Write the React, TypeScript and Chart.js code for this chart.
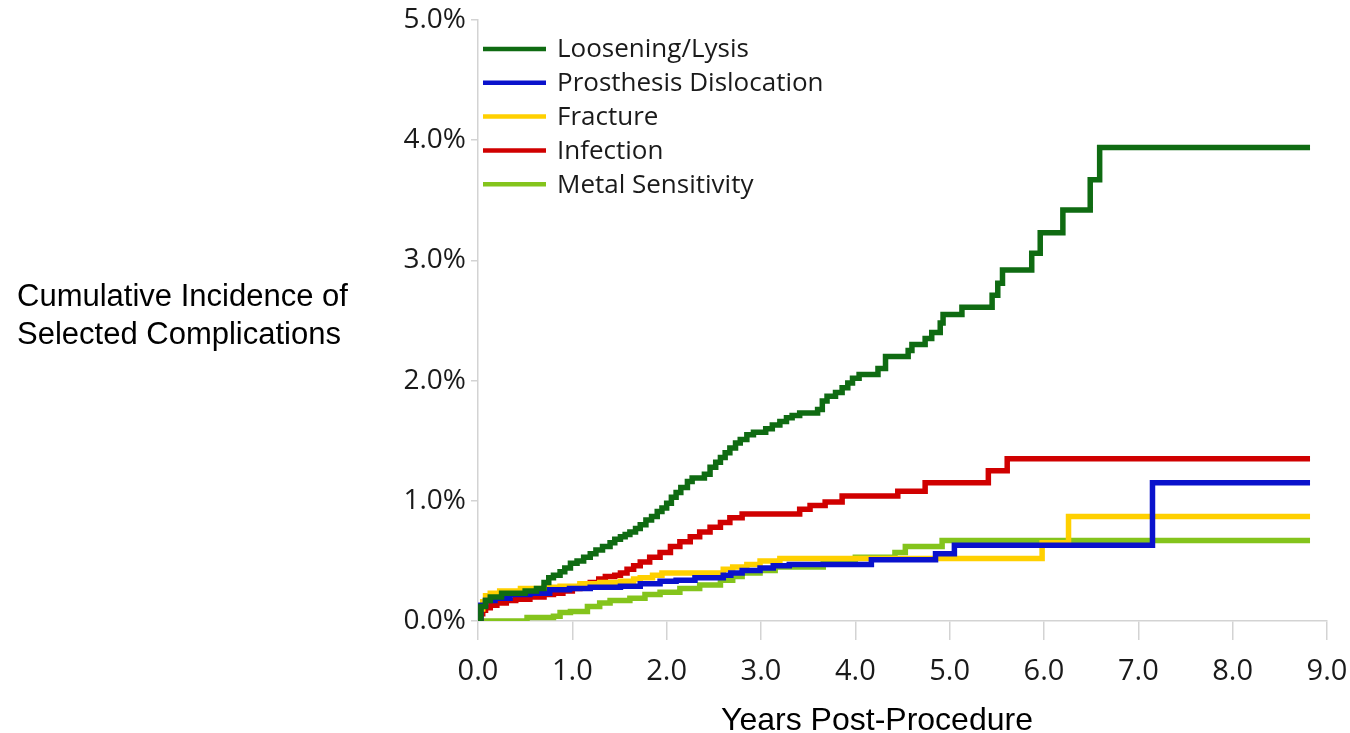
import React, { useEffect, useRef } from "react";
import { Chart, registerables } from "chart.js";

Chart.register(...registerables);

// ---------- data ----------
const seriesNames = [
  "Loosening/Lysis",
  "Prosthesis Dislocation",
  "Fracture",
  "Infection",
  "Metal Sensitivity",
];
const seriesColors = ["#0f6b12", "#0a12cc", "#ffd000", "#d00000", "#84c41c"];

// [years, cumulative incidence %] — value holds from that time onward
const looseningLysis: [number, number][] = [
  [0, 0], [0.03, 0.12], [0.08, 0.17], [0.13, 0.2], [0.25, 0.23], [0.5, 0.25],
  [0.62, 0.27], [0.7, 0.32], [0.75, 0.36], [0.8, 0.38], [0.87, 0.41], [0.92, 0.44],
  [0.98, 0.48], [1.05, 0.5], [1.12, 0.53], [1.19, 0.56], [1.25, 0.59], [1.32, 0.62],
  [1.4, 0.65], [1.45, 0.68], [1.51, 0.7], [1.56, 0.72], [1.61, 0.74], [1.67, 0.77],
  [1.72, 0.8], [1.78, 0.84], [1.84, 0.87], [1.9, 0.91], [1.95, 0.94], [2.0, 0.98],
  [2.05, 1.03], [2.1, 1.07], [2.15, 1.11], [2.22, 1.16], [2.27, 1.19], [2.4, 1.22],
  [2.46, 1.28], [2.52, 1.32], [2.57, 1.36], [2.62, 1.4], [2.67, 1.44], [2.73, 1.48],
  [2.78, 1.51], [2.85, 1.55], [2.92, 1.57], [3.05, 1.6], [3.12, 1.63], [3.2, 1.66],
  [3.27, 1.69], [3.33, 1.71], [3.41, 1.73], [3.6, 1.76], [3.65, 1.83], [3.7, 1.87],
  [3.79, 1.9], [3.86, 1.94], [3.92, 1.98], [3.97, 2.02], [4.04, 2.05], [4.24, 2.1],
  [4.32, 2.2], [4.56, 2.25], [4.6, 2.3], [4.74, 2.35], [4.81, 2.4], [4.9, 2.48],
  [4.93, 2.55], [5.13, 2.61], [5.45, 2.71], [5.51, 2.81], [5.56, 2.92], [5.87, 3.06],
  [5.96, 3.23], [6.2, 3.42], [6.49, 3.67], [6.59, 3.94], [8.82, 3.94],
];

const prosthesisDislocation: [number, number][] = [
  [0, 0], [0.03, 0.13], [0.08, 0.17], [0.18, 0.19], [0.34, 0.22], [0.55, 0.23],
  [0.76, 0.26], [0.97, 0.27], [1.19, 0.28], [1.51, 0.29], [1.72, 0.31], [1.93, 0.33],
  [2.1, 0.34], [2.3, 0.36], [2.6, 0.38], [2.68, 0.4], [2.8, 0.42], [2.99, 0.44],
  [3.13, 0.46], [3.3, 0.47], [4.17, 0.51], [4.85, 0.56], [5.05, 0.63], [7.15, 1.15],
  [8.82, 1.15],
];

const fracture: [number, number][] = [
  [0, 0], [0.02, 0.1], [0.05, 0.16], [0.08, 0.21], [0.13, 0.23], [0.23, 0.25],
  [0.45, 0.27], [0.7, 0.28], [0.87, 0.29], [1.08, 0.31], [1.29, 0.32], [1.51, 0.33],
  [1.65, 0.35], [1.72, 0.36], [1.85, 0.38], [1.95, 0.4], [2.6, 0.43], [2.7, 0.45],
  [2.85, 0.47], [2.99, 0.5], [3.2, 0.52], [5.98, 0.65], [6.26, 0.87], [8.82, 0.87],
];

const infection: [number, number][] = [
  [0, 0], [0.03, 0.06], [0.05, 0.09], [0.08, 0.11], [0.13, 0.13], [0.2, 0.15],
  [0.3, 0.17], [0.4, 0.18], [0.55, 0.2], [0.7, 0.22], [0.8, 0.23], [0.9, 0.25],
  [1.0, 0.27], [1.08, 0.29], [1.19, 0.32], [1.28, 0.35], [1.35, 0.37], [1.45, 0.38],
  [1.51, 0.4], [1.58, 0.43], [1.65, 0.46], [1.72, 0.49], [1.82, 0.53], [1.93, 0.57],
  [2.04, 0.62], [2.14, 0.66], [2.25, 0.7], [2.35, 0.74], [2.46, 0.78], [2.57, 0.82],
  [2.67, 0.86], [2.8, 0.89], [3.41, 0.93], [3.52, 0.96], [3.68, 0.99], [3.86, 1.04],
  [4.45, 1.08], [4.74, 1.15], [5.41, 1.25], [5.61, 1.35], [8.82, 1.35],
];

const metalSensitivity: [number, number][] = [
  [0, 0], [0.52, 0.03], [0.8, 0.04], [0.87, 0.07], [0.98, 0.08], [1.16, 0.12],
  [1.29, 0.15], [1.4, 0.17], [1.61, 0.19], [1.77, 0.22], [1.93, 0.24], [2.14, 0.27],
  [2.35, 0.3], [2.57, 0.34], [2.7, 0.37], [2.8, 0.4], [2.99, 0.42], [3.15, 0.45],
  [3.66, 0.48], [3.85, 0.5], [4.0, 0.53], [4.42, 0.57], [4.53, 0.62], [4.92, 0.67],
  [8.82, 0.67],
];

const seriesData = [looseningLysis, prosthesisDislocation, fracture, infection, metalSensitivity];

const xMin = 0;
const xMax = 9;
const yMin = 0;
const yMax = 5;
const yAxisTitleLines = ["Cumulative Incidence of", "Selected Complications"];
const xAxisTitle = "Years Post-Procedure";

const AXIS_COLOR = "#d3d3d3";
const TEXT_COLOR = "#1a1a1a";

const overlayPlugin = {
  id: "overlay",
  afterDraw(chart: any) {
    const ctx = chart.ctx as CanvasRenderingContext2D;
    const area = chart.chartArea;
    ctx.save();

    // legend inside chart area (top-left)
    ctx.font = '26px "Open Sans"';
    ctx.textBaseline = "middle";
    ctx.textAlign = "left";
    chart.data.datasets.forEach((ds: any, i: number) => {
      const y = area.top + 29 + i * 33.8;
      ctx.strokeStyle = ds.borderColor;
      ctx.lineWidth = 4.5;
      ctx.lineCap = "butt";
      ctx.beginPath();
      ctx.moveTo(area.left + 5, y);
      ctx.lineTo(area.left + 68, y);
      ctx.stroke();
      ctx.fillStyle = TEXT_COLOR;
      ctx.fillText(ds.label, area.left + 79, y + 1);
    });

    // y-axis title (horizontal, at far left)
    ctx.font = '31px "Liberation Sans", Arial, sans-serif';
    ctx.textBaseline = "alphabetic";
    ctx.fillStyle = "#000";
    yAxisTitleLines.forEach((line, i) => {
      ctx.fillText(line, 17, 306 + i * 38);
    });

    // x-axis title
    ctx.textAlign = "center";
    ctx.font = '32px "Liberation Sans", Arial, sans-serif';
    ctx.fillText(xAxisTitle, 877, 730);

    ctx.restore();
  },
};

export default function App() {
  const canvasRef = useRef<HTMLCanvasElement | null>(null);

  useEffect(() => {
    if (!canvasRef.current) return;
    const chart = new Chart(canvasRef.current, {
      type: "line",
      data: {
        datasets: seriesNames.map((name, i) => ({
          label: name,
          data: seriesData[i].map(([x, y]) => ({ x, y })),
          borderColor: seriesColors[i],
          backgroundColor: seriesColors[i],
          borderWidth: 5.5,
          stepped: "before" as const,
          pointRadius: 0,
          fill: false,
        })),
      },
      options: {
        animation: false,
        responsive: false,
        maintainAspectRatio: false,
        layout: { padding: { left: 0, right: 23, top: 20, bottom: 0 } },
        plugins: {
          legend: { display: false },
          tooltip: { enabled: false },
        },
        scales: {
          x: {
            type: "linear",
            min: xMin,
            max: xMax,
            ticks: {
              stepSize: 1,
              color: TEXT_COLOR,
              font: { family: '"Open Sans"', size: 29 },
              padding: 14,
              maxRotation: 0,
              callback: (v: any) => Number(v).toFixed(1),
            },
            grid: {
              drawOnChartArea: false,
              drawTicks: true,
              tickLength: 19,
              color: AXIS_COLOR,
              lineWidth: 1.5,
            },
            border: { display: true, color: AXIS_COLOR, width: 1.5 },
            afterFit: (scale: any) => {
              scale.height = 112;
              scale.paddingLeft = 0;
              scale.paddingRight = 0;
            },
          },
          y: {
            type: "linear",
            min: yMin,
            max: yMax,
            ticks: {
              stepSize: 1,
              color: TEXT_COLOR,
              font: { family: '"Open Sans"', size: 28 },
              padding: 5,
              callback: (v: any) => Number(v).toFixed(1) + "%",
            },
            grid: {
              drawOnChartArea: false,
              drawTicks: true,
              tickLength: 7,
              color: AXIS_COLOR,
              lineWidth: 1.5,
            },
            border: { display: true, color: AXIS_COLOR, width: 1.5 },
            afterFit: (scale: any) => {
              scale.width = 478;
              scale.paddingTop = 0;
              scale.paddingBottom = 0;
            },
          },
        },
      },
      plugins: [overlayPlugin],
    });
    return () => chart.destroy();
  }, []);

  return (
    <div style={{ position: "fixed", left: 0, top: 0, width: 1350, height: 733, background: "#fff" }}>
      <canvas ref={canvasRef} width={1350} height={733} />
    </div>
  );
}
